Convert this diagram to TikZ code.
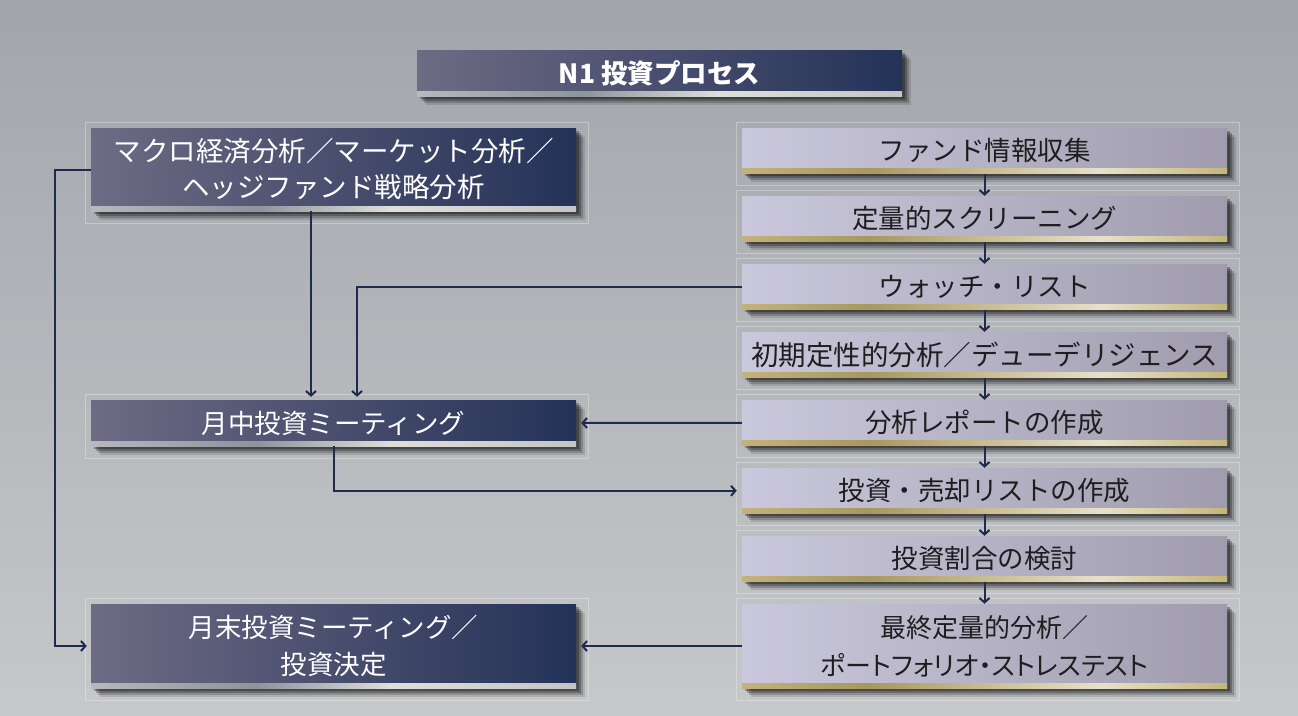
\documentclass[tikz,border=0pt]{standalone}
\usepackage{fontspec}
\setmainfont{Liberation Sans}
\newfontfamily\jp{Noto Sans CJK JP}
\newfontfamily\jpp[RawFeature=+palt]{Noto Sans CJK JP}
\usetikzlibrary{arrows.meta,shadows}
\definecolor{bgtop}{RGB}{162,165,171}
\definecolor{bgbot}{RGB}{198,200,202}
\definecolor{darkL}{RGB}{110,107,132}
\definecolor{darkR}{RGB}{36,50,88}
\definecolor{lightL}{RGB}{202,200,220}
\definecolor{lightR}{RGB}{160,156,174}
\definecolor{sA}{RGB}{184,184,190}
\definecolor{sB}{RGB}{140,148,156}
\definecolor{sC}{RGB}{222,222,218}
\definecolor{sD}{RGB}{196,196,198}
\definecolor{gA}{RGB}{196,178,122}
\definecolor{gB}{RGB}{168,152,92}
\definecolor{gC}{RGB}{232,224,200}
\definecolor{gD}{RGB}{196,182,120}
\definecolor{navy}{RGB}{30,42,78}
\definecolor{ink}{RGB}{30,30,30}
\pgfdeclarehorizontalshading{darkshade}{100bp}{color(0bp)=(darkL); color(25bp)=(darkL); color(75bp)=(darkR); color(100bp)=(darkR)}
\pgfdeclarehorizontalshading{lightshade}{100bp}{color(0bp)=(lightL); color(25bp)=(lightL); color(75bp)=(lightR); color(100bp)=(lightR)}
\pgfdeclarehorizontalshading{silvershade}{100bp}{color(0bp)=(sA); color(25bp)=(sA); color(42bp)=(sB); color(56bp)=(sC); color(75bp)=(sD); color(100bp)=(sD)}
\pgfdeclarehorizontalshading{goldshade}{100bp}{color(0bp)=(gA); color(25bp)=(gA); color(38bp)=(gB); color(62bp)=(gC); color(75bp)=(gD); color(100bp)=(gD)}
\tikzset{
  boxshadow/.style={
    general shadow={fill=black,opacity=.12,shadow xshift=8.5pt,shadow yshift=-8.5pt},
    general shadow={fill=black,opacity=.18,shadow xshift=6.5pt,shadow yshift=-6.5pt},
    general shadow={fill=black,opacity=.25,shadow xshift=4.5pt,shadow yshift=-4.5pt},
    general shadow={fill=black,opacity=.3,shadow xshift=2.5pt,shadow yshift=-2.5pt}},
  basebox/.style={rectangle, inner sep=0pt, minimum width=485pt, align=center,
    font=\jp\fontsize{26.5}{37}\selectfont, boxshadow},
  darkbox/.style={basebox, shade, shading=darkshade, text=white,
    path picture={\shade[shading=silvershade] ([yshift=5pt]path picture bounding box.south west) rectangle (path picture bounding box.south east);}},
  lightbox/.style={basebox, shade, shading=lightshade, text=ink,
    path picture={\shade[shading=goldshade] ([yshift=5pt]path picture bounding box.south west) rectangle (path picture bounding box.south east);}},
  frm/.style={draw=white, draw opacity=0.3, line width=0.9pt},
  conn/.style={draw=navy, line width=2pt},
  arr/.style={conn, -{Straight Barb[length=4.5pt,width=10pt]}},
}
\begin{document}
\begin{tikzpicture}[x=1pt,y=-1pt]
\useasboundingbox (0,0) rectangle (1298,715);
\shade[top color=bgtop, bottom color=bgbot] (0,0) rectangle (1298,715);
% title
\node[darkbox, minimum height=46pt] (title) at (659.5,73) {\textbf{N1 投資プロセス}};
% left column
\node[darkbox, minimum height=83pt, font=\jp\fontsize{27.5}{36}\selectfont] (macro) at (333.5,169.5) {マクロ経済分析／マーケット分析／\\ヘッジファンド戦略分析};
\node[darkbox, minimum height=46pt] (mid) at (333.5,423) {月中投資ミーティング};
\node[darkbox, minimum height=84pt] (end) at (333.5,646) {月末投資ミーティング／\\投資決定};
% right column
\node[lightbox, minimum height=45.5pt] (r1) at (984.5,150.75) {ファンド情報収集};
\node[lightbox, minimum height=45.5pt] (r2) at (984.5,218.75) {定量的スクリーニング};
\node[lightbox, minimum height=45.5pt] (r3) at (984.5,286.75) {ウォッチ・リスト};
\node[lightbox, minimum height=45.5pt, font=\jp\fontsize{27.5}{36}\selectfont] (r4) at (984.5,354.75) {初期定性的分析／デューデリジェンス};
\node[lightbox, minimum height=45.5pt] (r5) at (984.5,422.75) {分析レポートの作成};
\node[lightbox, minimum height=45.5pt] (r6) at (984.5,490.75) {投資・売却リストの作成};
\node[lightbox, minimum height=45.5pt] (r7) at (984.5,558.75) {投資割合の検討};
\node[lightbox, minimum height=84pt, font=\jpp\fontsize{26}{38}\selectfont] (r8) at (984.5,646) {最終定量的分析／\\ポートフォリオ・ストレステスト};
% frames
\foreach \n in {macro,mid,end,r1,r2,r3,r4,r5,r6,r7,r8}
  \draw[frm] ([shift={(-5,-5)}]\n.north west) rectangle ([shift={(12,12)}]\n.south east);
% connectors right column
\foreach \a/\b in {r1/r2,r2/r3,r3/r4,r4/r5,r5/r6,r6/r7,r7/r8}
  \draw[arr] (\a.south) -- (\b.north);
% left connectors
\draw[arr, shorten >=3pt] ([xshift=-22.5pt]macro.south) -- ([xshift=-22.5pt]mid.north);
\draw[arr, shorten >=3pt] (r3.west) -| ([xshift=23.5pt]mid.north);
\draw[arr, shorten >=5pt] (r5.west) -- (mid.east);
\draw[arr, shorten >=5pt] (mid.south) |- (r6.west);
\draw[arr, shorten >=5pt] (r8.west) -- (end.east);
\draw[arr, shorten >=4pt] (macro.west) -- ++(-36,0) |- (end.west);
\end{tikzpicture}
\end{document}
